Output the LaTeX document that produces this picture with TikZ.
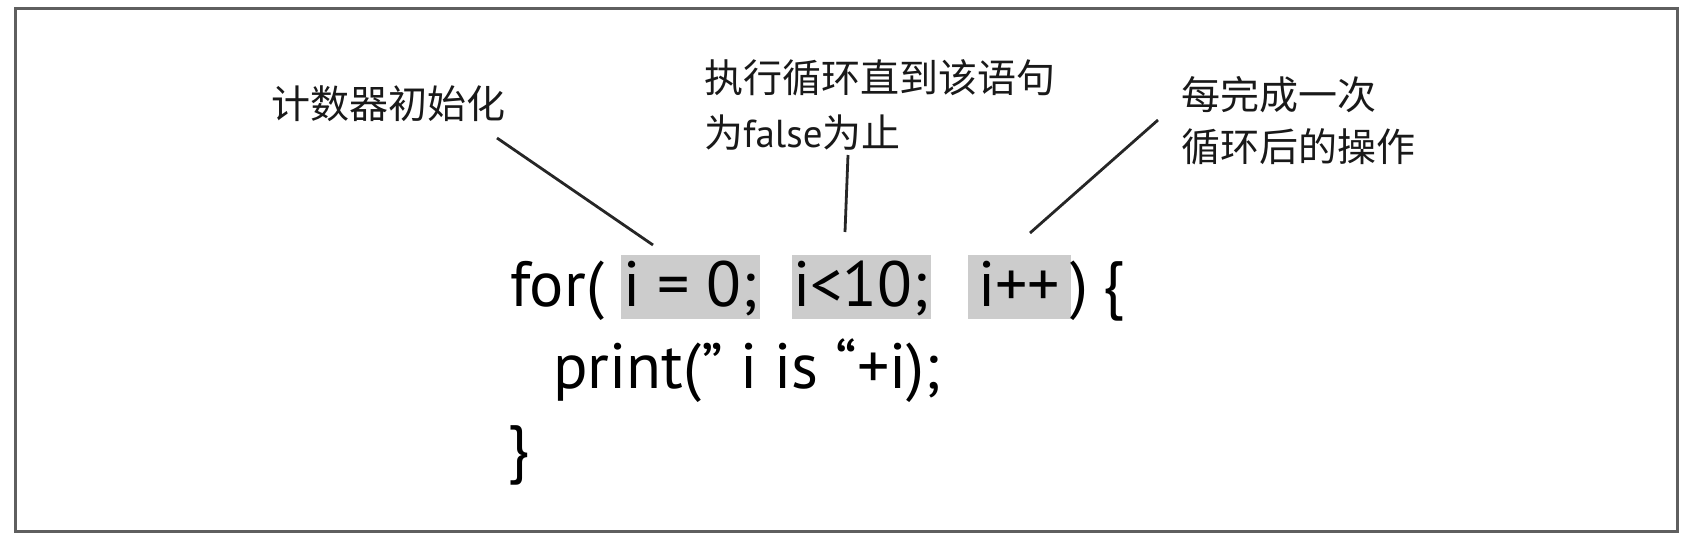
\documentclass[tikz,border=0pt]{standalone}
\usepackage{fontspec}
\setmainfont{PT Sans}
\newfontfamily\cjk{Noto Sans CJK SC}
\definecolor{hlgray}{RGB}{204,204,204}
\definecolor{framegray}{RGB}{95,95,95}
\begin{document}
\begin{tikzpicture}[x=1pt,y=-1pt,
  code/.style={anchor=base west, inner sep=0pt, font=\fontsize{64}{70}\selectfont, text=black},
  lbl/.style={anchor=base west, inner sep=0pt, font=\fontsize{39}{50}\selectfont\cjk, text=black!90},
  hl/.style={fill=hlgray, draw=none, inner sep=0pt, anchor=north west, minimum height=64pt},
  lead/.style={line width=2.8pt, draw=black!85}]
\useasboundingbox (0,0) rectangle (1695,539);
\draw[line width=3pt, draw=framegray] (15,8) rectangle (1677,531);
% highlight boxes
\node[hl, minimum width=139pt] (b1) at (621,255) {};
\node[hl, minimum width=139pt] (b2) at (792,255) {};
\node[hl, minimum width=103pt] (b3) at (968,255) {};
% code
\node[code] (for) at (510,306) {for(};
\node[code] (t1) at (623,306) {i = 0;};
\node[code] (t2) at (793,306) {i<10;};
\node[code] (t3) at (978,306) {i++};
\node[code] (rp) at (1070,306) {)};
\node[code] (lb) at (1102,306) {\{};
\node[code] (pr) at (553,388) {print(” i is “+i);};
\node[code] (rb) at (507,470) {\}};
% labels
\node[lbl] (l1) at (271,118) {计数器初始化};
\node[lbl] (l2a) at (704,92) {执行循环直到该语句};
\node[lbl] (l2b) at (704,147) {为{\rmfamily false}为止};
\node[lbl] (l3a) at (1181,109) {每完成一次};
\node[lbl] (l3b) at (1181,161) {循环后的操作};
% leader lines
\coordinate (c1s) at (497,138);
\coordinate (c1e) at (653,245);
\coordinate (c2s) at (848,155);
\coordinate (c2e) at (845,232);
\coordinate (c3s) at (1158,120);
\coordinate (c3e) at (1030,233);
\draw[lead] (c1s) -- (c1e);
\draw[lead] (c2s) -- (c2e);
\draw[lead] (c3s) -- (c3e);
\end{tikzpicture}
\end{document}
